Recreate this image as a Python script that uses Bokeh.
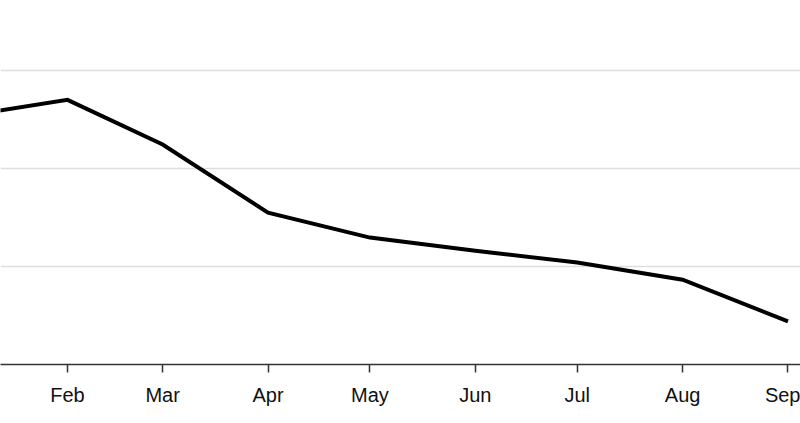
import pandas as pd
from bokeh.plotting import figure
from bokeh.models import Range1d, MonthsTicker, DatetimeTickFormatter, Grid, FixedTicker, DatetimeAxis
from bokeh.embed import file_html
from bokeh.resources import INLINE

# Data
months = ["2023-01-01", "2023-02-01", "2023-03-01", "2023-04-01", "2023-05-01",
          "2023-06-01", "2023-07-01", "2023-08-01", "2023-09-01"]
values = [2.53, 2.70, 2.245, 1.55, 1.295, 1.16, 1.04, 0.865, 0.44]
grid_values = [1, 2, 3]

dates = pd.to_datetime(months)

x_start = pd.Timestamp("2023-02-01") - pd.Timedelta(days=19.71)
x_end = pd.Timestamp("2023-02-01") + pd.Timedelta(days=215.68)

p = figure(width=800, height=423, output_backend="svg", toolbar_location=None,
           x_axis_type=None, y_axis_location=None,
           x_range=Range1d(x_start, x_end), y_range=Range1d(0, 3.714),
           min_border_left=0, min_border_right=0, min_border_top=0, min_border_bottom=59)
p.outline_line_color = None
p.background_fill_color = "white"
p.border_fill_color = "white"
for g in p.grid:
    g.visible = False

xaxis = DatetimeAxis(ticker=MonthsTicker(months=list(range(12))),
                     formatter=DatetimeTickFormatter(months="%b", days="%b"))
xaxis.axis_line_color = "#333333"
xaxis.axis_line_width = 1.5
xaxis.major_tick_line_color = "#333333"
xaxis.major_tick_line_width = 1.5
xaxis.major_tick_in = 0
xaxis.major_tick_out = 8
xaxis.minor_tick_line_color = None
xaxis.major_label_text_font = "Liberation Sans"
xaxis.major_label_text_font_size = "20px"
xaxis.major_label_text_color = "#111111"
xaxis.major_label_standoff = 11
p.add_layout(xaxis, "below")

ygrid = Grid(dimension=1, ticker=FixedTicker(ticks=grid_values),
             grid_line_color="#dddddd", grid_line_width=1.5)
p.add_layout(ygrid)

p.line(dates, values, line_color="black", line_width=4, line_join="miter")

open("out.html", "w").write(file_html(p, INLINE))
